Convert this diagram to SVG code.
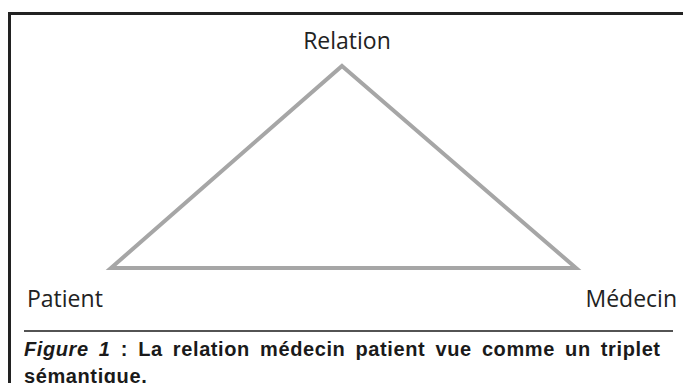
<svg xmlns="http://www.w3.org/2000/svg" width="683" height="383" viewBox="0 0 683 383">
<style>
.lbl{font-family:"Open Sans","Liberation Sans",sans-serif;font-size:23px;fill:#222}
.cap{font-family:"Liberation Sans",Arial,sans-serif;font-size:20px;font-weight:bold;fill:#1a1a1a;letter-spacing:0.6px}
.edge{fill:none;stroke:#a6a6a6;stroke-width:4;stroke-linejoin:miter}
</style>
<rect width="683" height="383" fill="#fff"/>
<g id="frame">
<path d="M9.5 383 V13.5 H683" fill="none" stroke="#222" stroke-width="3"/>
<line x1="24" y1="331" x2="673" y2="331" stroke="#1a1a1a" stroke-width="1.3"/>
</g>
<g id="connectors">
<path class="edge" d="M342 66 L576 268 L111 268 Z"/>
</g>
<g id="node-relation"><text class="lbl" x="347" y="49" text-anchor="middle">Relation</text></g>
<g id="node-patient"><text class="lbl" x="27" y="307">Patient</text></g>
<g id="node-medecin"><text class="lbl" x="677" y="307" text-anchor="end">Médecin</text></g>
<g id="caption">
<text class="cap" x="24" y="356" word-spacing="4"><tspan font-style="italic">Figure 1</tspan> : La relation médecin patient vue comme un triplet</text>
<text class="cap" x="24" y="383">sémantique.</text>
</g>
</svg>
